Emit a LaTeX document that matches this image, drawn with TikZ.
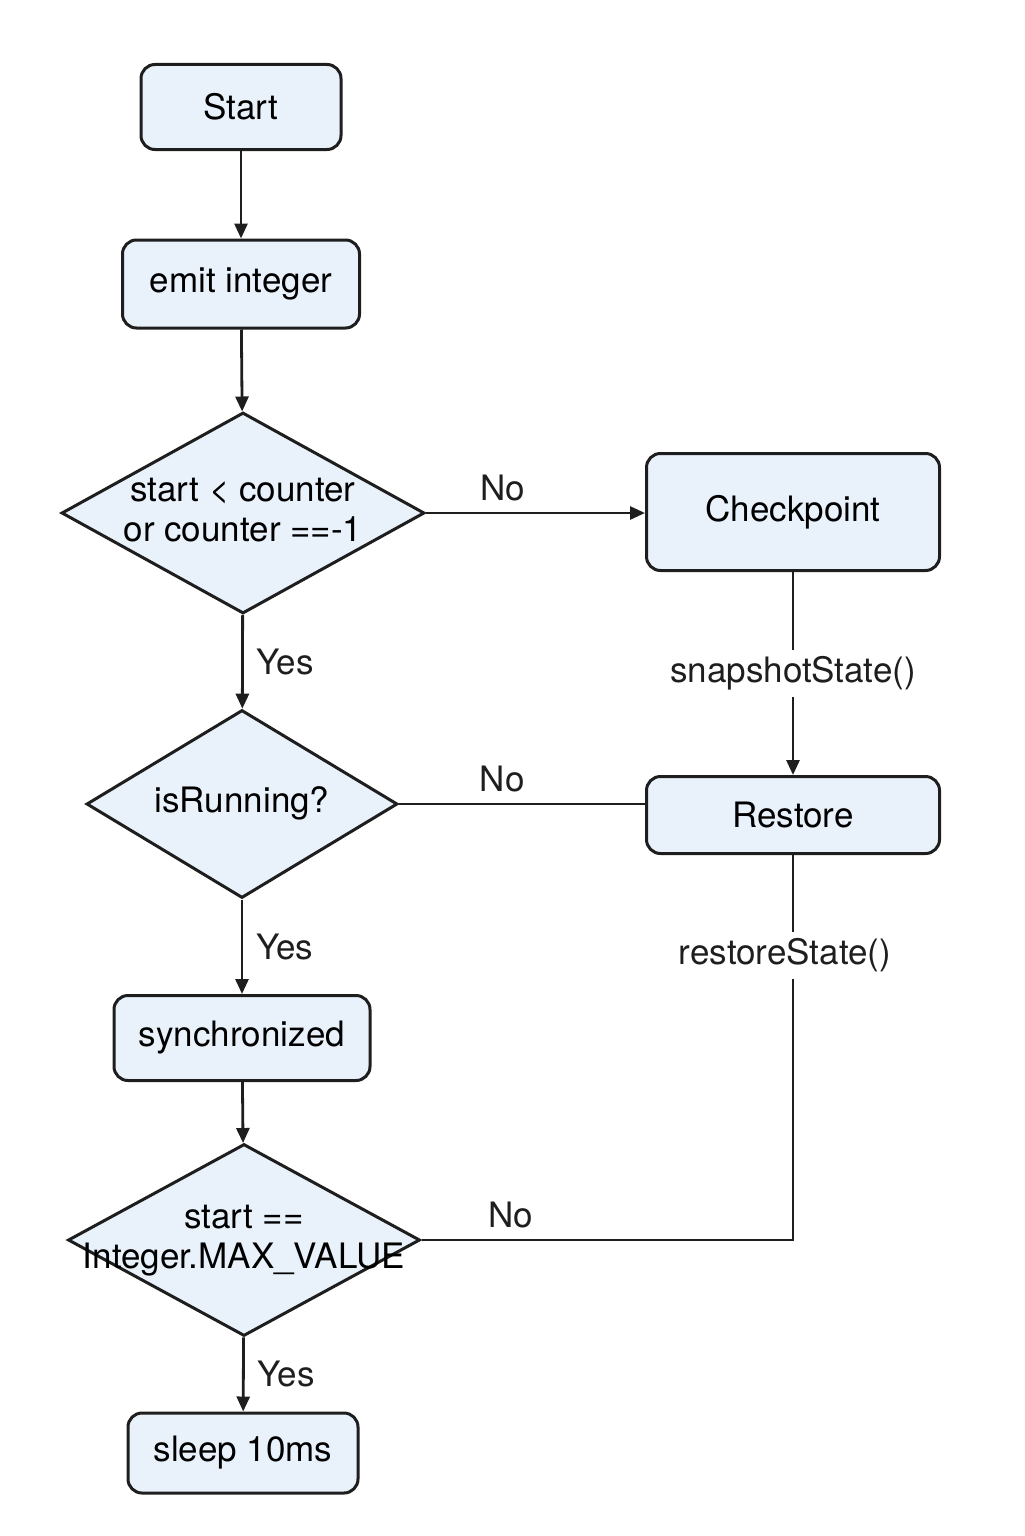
\documentclass[tikz,border=0pt]{standalone}
\usepackage{fontspec}
\setmainfont{TeX Gyre Heros}
\usetikzlibrary{shapes.geometric,arrows.meta}
\definecolor{boxfill}{HTML}{E9F1FB}
\definecolor{ink}{HTML}{1E1E1E}
\newcommand\widetext[2][0pt]{\makebox[0pt]{\raisebox{#1}{\begin{tabular}{@{}c@{}}#2\end{tabular}}}}

\tikzset{
  block/.style={draw=ink, fill=boxfill, line width=1.5pt, rounded corners=7pt,
    font=\fontsize{17.5}{20}\selectfont},
  decision/.style={draw=ink, fill=boxfill, line width=1.5pt, diamond, inner sep=0pt,
    font=\fontsize{17.5}{20}\selectfont},
  flow/.style={draw=ink, line width=1.4pt},
  edgelabel/.style={font=\fontsize{17.5}{20}\selectfont, text=ink}
}

\begin{document}
\begin{tikzpicture}[x=0.5pt,y=-0.5pt,>={Triangle[length=7.5pt,width=6.5pt]}]
  \useasboundingbox (0,0) rectangle (1024,1536);

  % left column
  \node [block, minimum width=100pt, minimum height=42.5pt] (start) at (241,107) {Start};
  \node [block, minimum width=118.5pt, minimum height=44pt] (emit) at (241,284) {emit integer};
  \node [decision, minimum width=181.5pt, minimum height=100.5pt] (cond) at (243,513)
    {\widetext[-2.5pt]{start < counter\\or counter ==-1}};
  \node [decision, minimum width=155.5pt, minimum height=94pt] (running) at (242,804)
    {\widetext{isRunning?}};
  \node [block, minimum width=128pt, minimum height=42.5pt] (sync) at (242,1038) {synchronized};
  \node [decision, minimum width=176pt, minimum height=96pt] (maxq) at (244,1240)
    {\widetext[2pt]{start ==\\Integer.MAX\_VALUE}};
  \node [block, minimum width=115pt, minimum height=40pt] (sleep) at (243,1453) {sleep 10ms};

  % right column
  \node [block, minimum width=146.5pt, minimum height=58.5pt] (ckpt) at (793,512) {Checkpoint};
  \node [block, minimum width=146.5pt, minimum height=38.5pt] (restore) at (793,815) {Restore};

  \draw [flow,->] (start) -- (emit);
  \draw [flow,->] (emit) -- (cond);
  \draw [flow,->] (cond.east) -- node [pos=0.35, above=2pt, edgelabel] {No} (cond.east -| ckpt.west);
  \draw [flow,->] (cond) -- node [right=3pt, edgelabel] {Yes} (running);
  \draw [flow,->] (ckpt) -- node [fill=white, edgelabel] {snapshotState()} (restore);
  \draw [flow] (running.east) -- node [pos=0.42, above=2pt, edgelabel] {No} (running.east -| restore.west);
  \draw [flow,->] (running) -- node [right=3pt, edgelabel] {Yes} (sync);
  \draw [flow,->] (sync) -- (maxq);
  \draw [flow] (restore.south) |- node [pos=0.13, xshift=-4pt, fill=white, edgelabel] {restoreState()}
    node [pos=0.88, above=2pt, edgelabel] {No} (maxq.east);
  \draw [flow,->] (maxq) -- node [right=3pt, edgelabel] {Yes} (sleep);
\end{tikzpicture}
\end{document}
